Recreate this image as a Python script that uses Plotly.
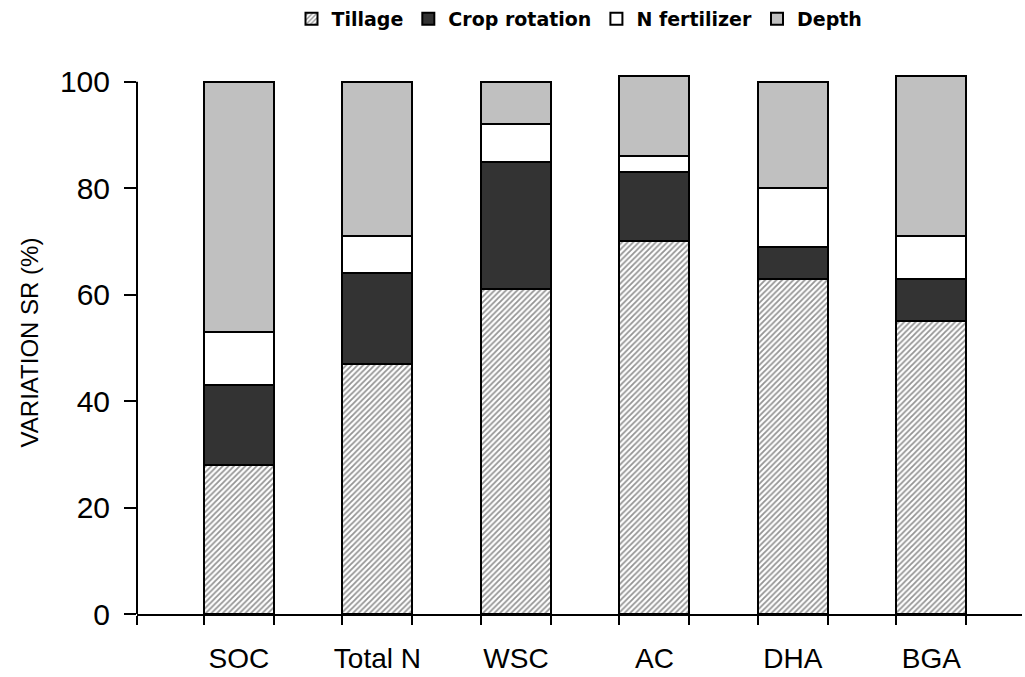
import plotly.graph_objects as go

categories = ["SOC", "Total N", "WSC", "AC", "DHA", "BGA"]
tillage = [28, 47, 61, 70, 63, 55]
crop_rotation = [15, 17, 24, 13, 6, 8]
n_fertilizer = [10, 7, 7, 3, 11, 8]
depth = [47, 29, 8, 15, 20, 30]
y_ticks = [0, 20, 40, 60, 80, 100]

BAR_W = 0.505
X_RANGE = [-0.736, 5.654]
Y_RANGE = [0, 102]

xpos = list(range(len(categories)))
edges = [X_RANGE[0]] + [p + s * BAR_W / 2 for p in xpos for s in (-1, 1)]

line = dict(color="black", width=2)
fig = go.Figure()
fig.add_trace(go.Bar(
    name="Tillage", x=xpos, y=tillage, width=BAR_W,
    marker=dict(color="white", line=line,
                pattern=dict(shape="/", size=4, solidity=0.45,
                             fgcolor="#2a2a2a", bgcolor="white")),
))
fig.add_trace(go.Bar(
    name="Crop rotation", x=xpos, y=crop_rotation, width=BAR_W,
    marker=dict(color="#333333", line=line),
))
fig.add_trace(go.Bar(
    name="N fertilizer", x=xpos, y=n_fertilizer, width=BAR_W,
    marker=dict(color="white", line=line),
))
fig.add_trace(go.Bar(
    name="Depth", x=xpos, y=depth, width=BAR_W,
    marker=dict(color="#c0c0c0", line=line),
))

fig.update_layout(
    barmode="stack",
    width=1025, height=677,
    margin=dict(l=137, r=3, t=71, b=61),
    paper_bgcolor="white", plot_bgcolor="white",
    font=dict(family="Liberation Sans, Arial, sans-serif", color="black"),
    showlegend=True,
    legend=dict(
        orientation="h", x=0.5, xanchor="center",
        yref="container", y=1.0, yanchor="top",
        traceorder="normal",
        font=dict(family="DejaVu Sans", size=19, weight="bold", color="black"),
        itemwidth=30,
    ),
    xaxis=dict(
        range=X_RANGE, tickmode="array", tickvals=xpos, ticktext=categories,
        ticks="", showline=True, linecolor="black", linewidth=2,
        showgrid=False, zeroline=False,
        tickfont=dict(size=28), ticklabelstandoff=18,
        minor=dict(tickmode="array", tickvals=edges, ticks="outside",
                   ticklen=9, tickwidth=2, tickcolor="black", showgrid=False),
    ),
    yaxis=dict(
        range=Y_RANGE, tickmode="array", tickvals=y_ticks,
        ticks="outside", ticklen=12, tickwidth=2, tickcolor="black",
        showline=False, showgrid=False, zeroline=False,
        tickfont=dict(size=30), ticklabelstandoff=8,
        title=dict(text="VARIATION SR (%)", font=dict(size=24), standoff=14),
    ),
    shapes=[dict(type="line", xref="paper", yref="y", x0=0, x1=0,
                 y0=y_ticks[0], y1=y_ticks[-1],
                 line=dict(color="black", width=2), layer="above")],
)

fig.write_html("out.html")
